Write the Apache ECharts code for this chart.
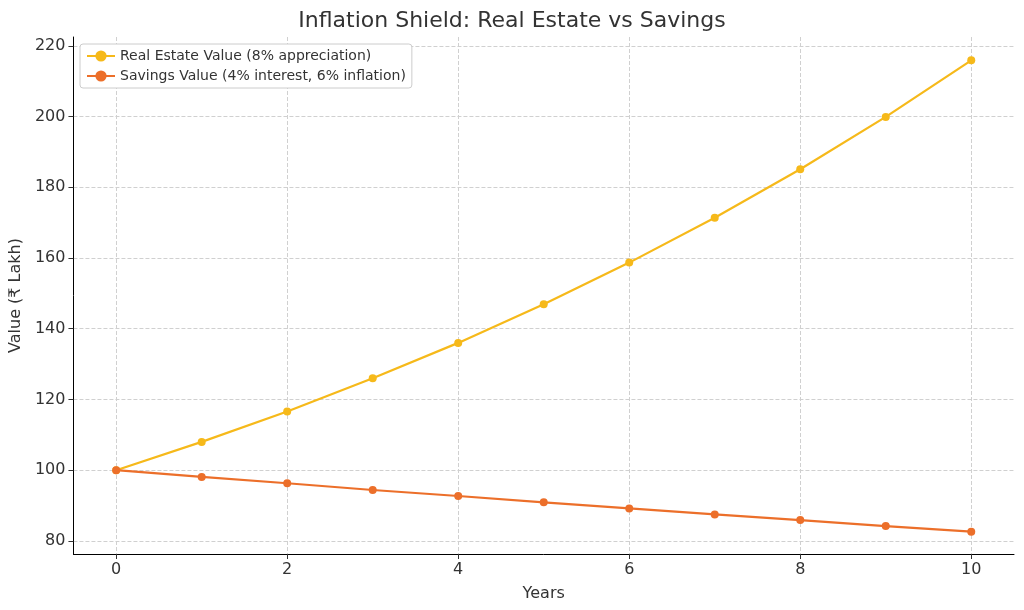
<!DOCTYPE html><html><head><meta charset="utf-8"><script src="https://cdn.jsdelivr.net/npm/echarts@6/dist/echarts.min.js"></script></head><body style="margin:0"><div id="c" style="width:1024px;height:610px"></div><script>
const years=[0,1,2,3,4,5,6,7,8,9,10];
const realEstate=[100,108,116.6,126,136,146.9,158.7,171.4,185.1,199.9,215.9];
const savings=[100,98.1,96.3,94.4,92.7,90.9,89.2,87.5,85.9,84.2,82.6];
const xTicks=[0,2,4,6,8,10];
const yTicks=[80,100,120,140,160,180,200,220];
const f='DejaVu Sans';
const split={show:true,lineStyle:{type:'dashed',color:'#d0d0d0'}};
const chart=echarts.init(document.getElementById('c'));
chart.setOption({animation:false,textStyle:{fontFamily:f},
title:{text:'Inflation Shield: Real Estate vs Savings',left:'center',top:5,textStyle:{fontFamily:f,fontSize:22,fontWeight:'normal',color:'#333'}},
legend:{left:80,top:44,orient:'vertical',itemGap:6,backgroundColor:'#fff',borderColor:'#ccc',borderWidth:1,borderRadius:3,padding:[5,6],textStyle:{fontFamily:f,fontSize:14,color:'#333'},itemWidth:28,data:['Real Estate Value (8% appreciation)','Savings Value (4% interest, 6% inflation)']},
grid:{left:71,right:10,top:37,bottom:56},
xAxis:{type:'value',min:-0.5,max:10.5,name:'Years',nameLocation:'middle',nameGap:32,nameTextStyle:{fontSize:16,color:'#333'},
axisLine:{onZero:false,lineStyle:{color:'#000'}},axisTick:{customValues:xTicks,length:5,lineStyle:{color:'#333'}},axisLabel:{customValues:xTicks,fontSize:16,color:'#333'},splitLine:split},
yAxis:{type:'value',min:76.3,max:222.5,name:'Value (₹ Lakh)',nameLocation:'middle',nameGap:48,nameTextStyle:{fontSize:16,color:'#333'},
axisLine:{show:true,onZero:false,lineStyle:{color:'#000'}},axisTick:{show:true,customValues:yTicks,length:5,lineStyle:{color:'#333'}},axisLabel:{customValues:yTicks,fontSize:16,color:'#333'},splitLine:split},
series:[
{name:'Real Estate Value (8% appreciation)',type:'line',data:years.map((x,i)=>[x,realEstate[i]]),color:'#f6b91a',symbol:'circle',symbolSize:8,lineStyle:{width:2.2}},
{name:'Savings Value (4% interest, 6% inflation)',type:'line',data:years.map((x,i)=>[x,savings[i]]),color:'#ec6f2a',symbol:'circle',symbolSize:8,lineStyle:{width:2.2}}]});
</script></body></html>
